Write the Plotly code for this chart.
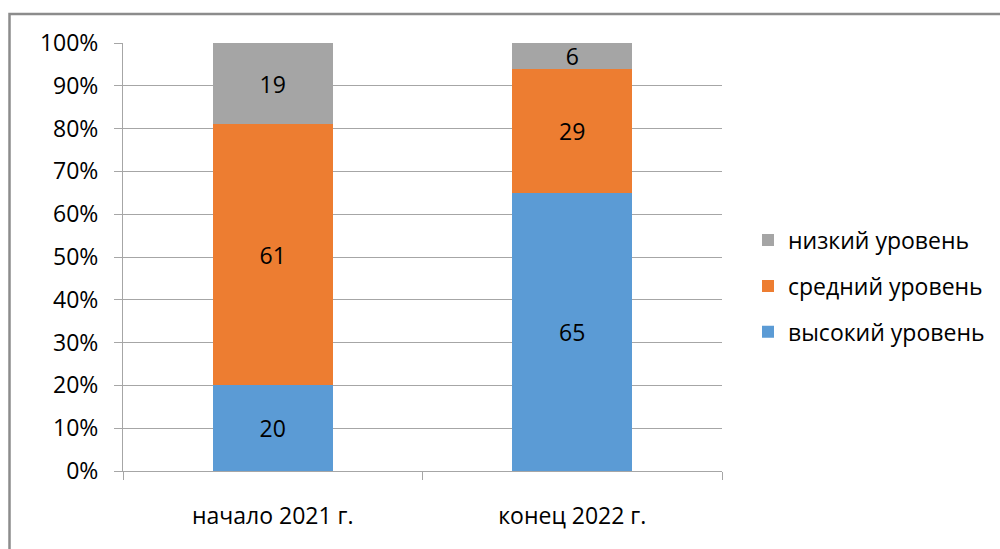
import plotly.graph_objects as go

categories = ["начало 2021 г.", "конец 2022 г."]
series_names = ["высокий уровень", "средний уровень", "низкий уровень"]
high = [20, 65]
mid = [61, 29]
low = [19, 6]
colors = ["#5B9BD5", "#ED7D31", "#A5A5A5"]
legend_ranks = [3, 2, 1]
y_ticks = [0, 10, 20, 30, 40, 50, 60, 70, 80, 90, 100]
y_tick_text = [f"{v}%" for v in y_ticks]

FONT = "Open Sans"
FS = 23
fig = go.Figure()
for name, vals, col, rk in zip(series_names, [high, mid, low], colors, legend_ranks):
    fig.add_trace(go.Bar(
        x=categories, y=vals, name=name, marker_color=col, marker_line_width=0,
        text=[str(v) for v in vals], textposition="inside", insidetextanchor="middle",
        textangle=0,
        textfont=dict(family=FONT, size=FS, color="#000000"),
        legendgroup=name, legendrank=rk,
    ))

fig.update_layout(
    barmode="stack", bargap=0.6,
    width=1000, height=549,
    margin=dict(l=123, r=278, t=43, b=78),
    paper_bgcolor="white", plot_bgcolor="white",
    font=dict(family=FONT, size=FS, color="#000000"),
    uniformtext=dict(minsize=FS, mode="show"),
    legend=dict(
        traceorder="grouped", tracegroupgap=13,
        xref="container", yref="container", x=0.748, y=0.479,
        xanchor="left", yanchor="middle",
        font=dict(family=FONT, size=FS, color="#000000"),
        bgcolor="rgba(0,0,0,0)",
    ),
    xaxis=dict(
        type="category", showgrid=False, showline=True, linecolor="#A6A6A6", linewidth=1,
        ticks="outside", ticklen=8, tickcolor="#A6A6A6", tickson="boundaries",
        tickfont=dict(family=FONT, size=FS, color="#000000"), ticklabelstandoff=24,
    ),
    yaxis=dict(
        range=[0, 100], tickvals=y_ticks, ticktext=y_tick_text,
        showgrid=True, gridcolor="#A6A6A6", gridwidth=1,
        showline=True, linecolor="#A6A6A6", linewidth=1,
        ticks="outside", ticklen=8, tickcolor="#A6A6A6",
        tickfont=dict(family=FONT, size=FS, color="#000000"), ticklabelstandoff=11,
        zeroline=False,
    ),
    shapes=[dict(
        type="rect", xref="paper", yref="paper",
        x0=(9.5 - 123) / 599, x1=(1010 - 123) / 599,
        y0=(471 - 560) / 428, y1=(471 - 14) / 428,
        line=dict(color="#8C8C8C", width=2.5), fillcolor="rgba(0,0,0,0)", layer="below",
    )],
)

fig.write_html("out.html", config={"displayModeBar": False},
               post_script="document.body.style.margin='0';")
